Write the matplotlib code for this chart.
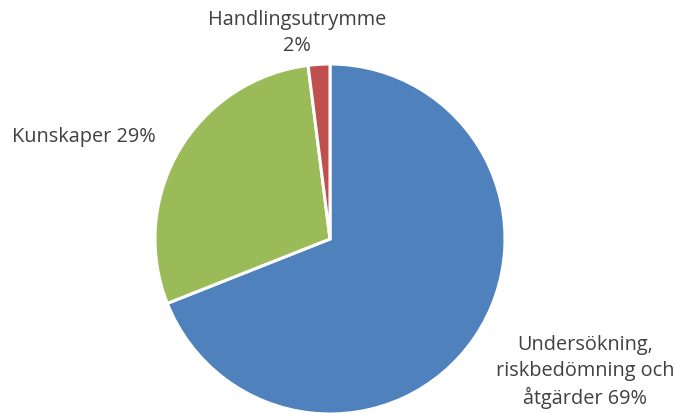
import matplotlib.pyplot as plt

categories = ["Undersökning,\nriskbedömning och\nåtgärder", "Kunskaper", "Handlingsutrymme\n"]
values = [69, 29, 2]
colors = ["#4F81BD", "#9BBB59", "#C0504D"]

plt.rcParams['font.family'] = ['Open Sans', 'DejaVu Sans']

fig = plt.figure(figsize=(6.83, 4.14), dpi=100)
ax = fig.add_axes([0, 0, 1, 1])
ax.pie(values, colors=colors, startangle=90, counterclock=False,
       center=(330, 174), radius=175, frame=True,
       wedgeprops=dict(edgecolor='white', linewidth=2.2))
ax.set_xlim(0, 683)
ax.set_ylim(0, 414)
ax.set_aspect('equal')
ax.axis('off')

labels = [f"{c} {v}%" if not c.endswith("\n") else f"{c}{v}%" for c, v in zip(categories, values)]
fs = 14.3
ax.text(585, 42, labels[0], ha='center', va='center', fontsize=fs, color='#404040', linespacing=1.38)
ax.text(12, 277, labels[1], ha='left', va='center', fontsize=fs, color='#404040')
ax.text(297, 381, labels[2], ha='center', va='center', fontsize=fs, color='#404040', linespacing=1.38)

fig.savefig("out.png", dpi=100)
